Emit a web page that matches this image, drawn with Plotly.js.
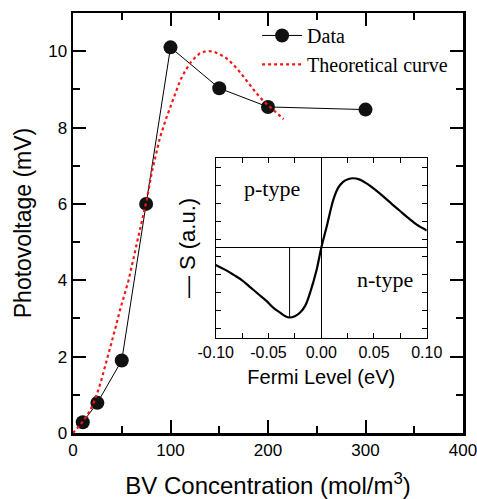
<!DOCTYPE html>
<html>
<head>
<meta charset="utf-8">
<script src="https://cdn.plot.ly/plotly-3.0.1.min.js"></script>
<style>
html,body{margin:0;padding:0;background:#fff;}
#chart{width:477px;height:499px;}
</style>
</head>
<body>
<div id="chart"></div>
<script>
// Main data (photovoltage vs BV concentration)
const dataX = [10, 25, 50, 75, 100, 150, 200, 300];
const dataY = [0.28, 0.79, 1.9, 6.0, 10.1, 9.03, 8.54, 8.47];

// Theoretical curve
const theoX = [0, 3, 6, 10, 14, 17, 21, 26, 30, 35, 39, 43, 48, 52, 57, 64, 68, 72, 76, 81, 85, 89, 95, 100, 105, 110, 115, 120, 125, 130, 135, 140, 145, 150, 155, 160, 168, 175, 181, 188, 195, 200, 205, 210, 216];
const theoY = [0.0, 0.08, 0.17, 0.3, 0.44, 0.56, 0.78, 1.13, 1.47, 1.92, 2.3, 2.7, 3.2, 3.55, 4.0, 4.8, 5.25, 5.7, 6.15, 6.85, 7.3, 7.72, 8.2, 8.56, 8.93, 9.24, 9.48, 9.68, 9.83, 9.94, 9.99, 10.0, 9.98, 9.93, 9.86, 9.76, 9.55, 9.33, 9.12, 8.9, 8.7, 8.58, 8.46, 8.35, 8.22];

// Inset: -S vs Fermi level
const fermiX = [-0.100, -0.090, -0.083, -0.075, -0.068, -0.060, -0.052, -0.045, -0.039, -0.034, -0.030, -0.025, -0.020, -0.015, -0.0106, -0.0043, 0.000, 0.0052, 0.0115, 0.016, 0.021, 0.026, 0.030, 0.036, 0.043, 0.051, 0.059, 0.067, 0.075, 0.083, 0.0905, 0.100];
const fermiY = [-0.19, -0.25, -0.30, -0.36, -0.43, -0.51, -0.59, -0.67, -0.72, -0.76, -0.775, -0.76, -0.72, -0.64, -0.50, -0.24, 0.0, 0.24, 0.54, 0.67, 0.74, 0.77, 0.778, 0.765, 0.72, 0.65, 0.573, 0.49, 0.41, 0.33, 0.26, 0.196];

const insetTickVals = [-0.10, -0.05, 0.00, 0.05, 0.10];
const insetTickText = ['-0.10', '-0.05', '0.00', '0.05', '0.10'];
const typeLabels = ['p-type', 'n-type'];
const typeLabelX = [-0.047, 0.060];
const typeLabelY = [0.667, -0.352];

// vertical marker line at minimum of inset curve
let iMin = 0;
for (let i = 1; i < fermiY.length; i++) if (fermiY[i] < fermiY[iMin]) iMin = i;
const minLineX = [fermiX[iMin], fermiX[iMin]];
const minLineY = [0, fermiY[iMin]];

const sans = 'Liberation Sans, Arial, sans-serif';
const serif = 'Liberation Serif, Times New Roman, serif';

const traces = [
  {
    x: dataX, y: dataY, type: 'scatter', mode: 'lines+markers', name: 'Data',
    line: {color: '#000', width: 1},
    marker: {color: '#111', size: 14},
    xaxis: 'x', yaxis: 'y'
  },
  {
    x: theoX, y: theoY, type: 'scatter', mode: 'lines', name: 'Theoretical curve',
    line: {color: '#f01818', width: 2.2, dash: 'dot'},
    xaxis: 'x', yaxis: 'y'
  },
  {
    x: fermiX, y: fermiY, type: 'scatter', mode: 'lines', showlegend: false,
    line: {color: '#000', width: 2.2, shape: 'spline'},
    xaxis: 'x2', yaxis: 'y2'
  },
  {
    x: minLineX, y: minLineY, type: 'scatter', mode: 'lines', showlegend: false,
    line: {color: '#000', width: 1},
    xaxis: 'x2', yaxis: 'y2'
  }
];

const annotations = typeLabels.map((t, i) => ({
  text: t, x: typeLabelX[i], y: typeLabelY[i], xref: 'x2', yref: 'y2',
  showarrow: false, font: {family: serif, size: 22, color: '#000'}
}));

const layout = {
  width: 477, height: 499,
  margin: {l: 73, r: 14, t: 13, b: 66},
  paper_bgcolor: '#fff', plot_bgcolor: '#fff',
  showlegend: true,
  legend: {
    x: 0.472, y: 0.993, xanchor: 'left', yanchor: 'top',
    bgcolor: 'rgba(0,0,0,0)', font: {family: serif, size: 20, color: '#000'},
    itemwidth: 40, tracegroupgap: 0
  },
  xaxis: {
    domain: [0, 1], range: [0, 400], dtick: 100, tick0: 0,
    showline: true, linewidth: 2.5, linecolor: '#000', mirror: 'allticks',
    ticks: 'inside', ticklen: 13, tickwidth: 2, tickcolor: '#000',
    minor: {dtick: 50, ticks: 'inside', ticklen: 7, tickwidth: 2, tickcolor: '#000'},
    showgrid: false, zeroline: false, ticklabeloverflow: 'allow',
    tickfont: {family: sans, size: 17, color: '#000'},
    title: {text: 'BV Concentration (mol/m<sup>3</sup>)', font: {family: sans, size: 24, color: '#000'}, standoff: 20}
  },
  yaxis: {
    domain: [0, 1], range: [0, 11], dtick: 2, tick0: 0,
    showline: true, linewidth: 2.5, linecolor: '#000', mirror: 'allticks',
    ticks: 'inside', ticklen: 13, tickwidth: 2, tickcolor: '#000',
    minor: {dtick: 1, ticks: 'inside', ticklen: 7, tickwidth: 2, tickcolor: '#000'},
    showgrid: false, zeroline: false,
    tickfont: {family: sans, size: 17, color: '#000'},
    title: {text: 'Photovoltage (mV)', font: {family: sans, size: 23, color: '#000'}, standoff: 10}
  },
  xaxis2: {
    domain: [0.366, 0.907], anchor: 'y2', range: [-0.10, 0.10],
    tickmode: 'array', tickvals: insetTickVals, ticktext: insetTickText,
    showline: true, linewidth: 1.2, linecolor: '#000', mirror: 'allticks',
    ticks: 'inside', ticklen: 5, tickwidth: 1, tickcolor: '#000',
    minor: {dtick: 0.025, tick0: 0, ticks: 'inside', ticklen: 5, tickwidth: 1, tickcolor: '#000'},
    showgrid: false, zeroline: true, zerolinecolor: '#000', zerolinewidth: 1,
    ticklabeloverflow: 'allow',
    tickfont: {family: sans, size: 16, color: '#000'},
    title: {text: 'Fermi Level (eV)', font: {family: sans, size: 20, color: '#000'}, standoff: 10}
  },
  yaxis2: {
    domain: [0.227, 0.654], anchor: 'x2', range: [-1, 1],
    tick0: 0.1, dtick: 0.2, showticklabels: false,
    showline: true, linewidth: 1.2, linecolor: '#000', mirror: 'allticks',
    ticks: 'inside', ticklen: 5, tickwidth: 1, tickcolor: '#000',
    showgrid: false, zeroline: true, zerolinecolor: '#000', zerolinewidth: 1,
    title: {text: '\u2014 S (a.u.)', font: {family: sans, size: 22, color: '#000'}, standoff: 12}
  },
  annotations: annotations
};

Plotly.newPlot('chart', traces, layout, {displayModeBar: false, staticPlot: true});
</script>
</body>
</html>
